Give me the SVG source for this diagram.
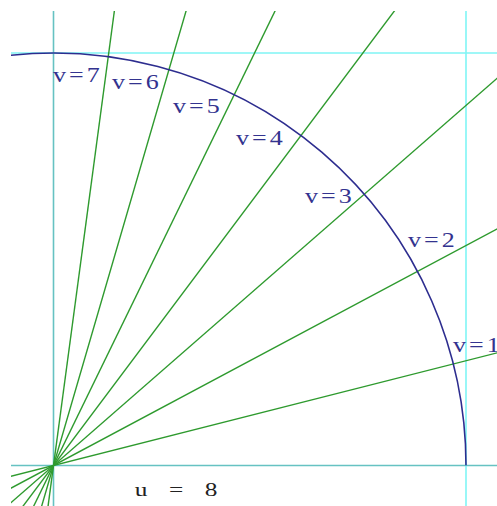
<svg xmlns="http://www.w3.org/2000/svg" width="497" height="506" viewBox="0 0 497 506">
<style>
.ray{stroke:#2e9a2e;stroke-width:1.4;fill:none}
.axis{stroke:#66c2c2;stroke-width:1.6;fill:none}
.grid{stroke:#7ff5f5;stroke-width:1.6;fill:none}
.arc{stroke:#2d2d8f;stroke-width:1.6;fill:none}
.lbl{font-family:"Liberation Serif","Times New Roman",serif;font-size:20px;fill:#33338f}
.u{font-family:"Liberation Serif","Times New Roman",serif;font-size:19.5px;fill:#222}
</style>
<defs>
<clipPath id="plot"><rect x="11" y="11" width="486" height="495"/></clipPath>
</defs>
<rect width="497" height="506" fill="#fff"/>
<g id="grid" clip-path="url(#plot)">
<line class="axis" x1="11" y1="465.5" x2="497" y2="465.5"/>
<line class="axis" x1="53.5" y1="11" x2="53.5" y2="506"/>
<line class="grid" x1="11" y1="53" x2="497" y2="53"/>
<line class="grid" x1="466" y1="11" x2="466" y2="506"/>
</g>
<g id="rays" clip-path="url(#plot)">
<line class="ray" x1="732.0" y1="293.2" x2="-625.0" y2="637.8"/>
<line class="ray" x1="671.1" y1="136.1" x2="-564.1" y2="794.9"/>
<line class="ray" x1="580.9" y1="5.2" x2="-473.9" y2="925.8"/>
<line class="ray" x1="473.5" y1="-94.5" x2="-366.5" y2="1025.5"/>
<line class="ray" x1="360.2" y1="-163.7" x2="-253.2" y2="1094.7"/>
<line class="ray" x1="249.5" y1="-206.5" x2="-142.5" y2="1137.5"/>
<line class="ray" x1="146.4" y1="-228.3" x2="-39.4" y2="1159.3"/>
</g>
<g id="arc" clip-path="url(#plot)">
<path class="arc" d="M466,465.5 A412.5,412.5 0 0 0 -10,58"/>
</g>
<g id="labels">
<text class="lbl" transform="translate(53,82) scale(1.3,1)" x="0 12.4 26" y="0">v=7</text>
<text class="lbl" transform="translate(112,89) scale(1.3,1)" x="0 12.4 26" y="0">v=6</text>
<text class="lbl" transform="translate(173,113) scale(1.3,1)" x="0 12.4 26" y="0">v=5</text>
<text class="lbl" transform="translate(236,145) scale(1.3,1)" x="0 12.4 26" y="0">v=4</text>
<text class="lbl" transform="translate(305,203) scale(1.3,1)" x="0 12.4 26" y="0">v=3</text>
<text class="lbl" transform="translate(408,247) scale(1.3,1)" x="0 12.4 26" y="0">v=2</text>
<text class="lbl" transform="translate(453,352) scale(1.3,1)" x="0 12.4 26" y="0">v=1</text>
<text class="u" transform="translate(134.7,496) scale(1.3,1)" x="0 13 26.3 40 53.8" y="0">u = 8</text>
</g>
</svg>
